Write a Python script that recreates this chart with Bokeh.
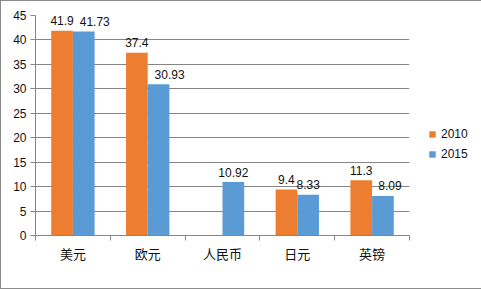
from bokeh.plotting import figure
from bokeh.models import FixedTicker, Legend, LegendItem, ColumnDataSource, Range1d
from bokeh.core.properties import value
from bokeh.embed import file_html
from bokeh.resources import INLINE

categories = ["美元", "欧元", "人民币", "日元", "英镑"]
series_names = ["2010", "2015"]
values_2010 = [41.9, 37.4, None, 9.4, 11.3]
values_2015 = [41.73, 30.93, 10.92, 8.33, 8.09]
y_ticks = [0, 5, 10, 15, 20, 25, 30, 35, 40, 45]

colors = ["#ED7D31", "#5B9BD5"]
label_dx_2015 = [11, 11, 0, 0, 7]  # label nudges (screen px)

p = figure(frame_width=374, frame_height=220, output_backend="svg", toolbar_location=None,
           x_range=Range1d(0, 5), y_range=Range1d(0, 45),
           min_border_left=34, min_border_top=14, min_border_right=71, min_border_bottom=53)
p.styles = {"border": "1px solid #8c8c8c"}
p.outline_line_color = None
p.background_fill_color = "white"
p.border_fill_color = "white"

font = "Liberation Sans"
gray = "#868686"

legend_items = []
for k, (vals, name, col) in enumerate(zip([values_2010, values_2015], series_names, colors)):
    off = -0.145 if k == 0 else 0.145
    xs, ys, labels, dx = [], [], [], []
    for i, v in enumerate(vals):
        if v is None:
            continue
        xs.append(i + 0.5 + off)
        ys.append(v)
        labels.append(str(v))
        dx.append(label_dx_2015[i] if k == 1 else 0)
    src = ColumnDataSource(dict(x=xs, top=ys, text=labels, dx=dx))
    r = p.vbar(x="x", top="top", width=0.29, bottom=0, source=src, fill_color=col, line_color=None)
    p.text(x="x", y="top", text="text", x_offset="dx", y_offset=-10, source=src,
           text_align="center", text_baseline="alphabetic", text_font=value(font),
           text_font_size="12px", text_color="#111111")
    legend_items.append(LegendItem(label=name, renderers=[r]))

# axes
yax = p.yaxis[0]
yax.ticker = FixedTicker(ticks=y_ticks)
yax.axis_line_color = gray
yax.major_tick_line_color = gray
yax.major_tick_out = 5
yax.major_tick_in = 0
yax.minor_tick_line_color = None
yax.major_label_standoff = 4
yax.major_label_text_font = font
yax.major_label_text_font_size = "12px"
yax.major_label_text_color = "#111111"

xax = p.xaxis[0]
xax.ticker = FixedTicker(ticks=[i + 0.5 for i in range(len(categories))],
                         minor_ticks=list(range(len(categories) + 1)))
xax.major_label_overrides = {i + 0.5: c for i, c in enumerate(categories)}
xax.axis_line_color = gray
xax.major_tick_line_color = None
xax.minor_tick_line_color = gray
xax.minor_tick_out = 5
xax.minor_tick_in = 0
xax.major_label_standoff = 2
xax.major_label_text_font = "Noto Sans CJK SC"
xax.major_label_text_font_size = "13px"
xax.major_label_text_color = "#111111"

p.xgrid.grid_line_color = None
p.ygrid.grid_line_color = gray
p.ygrid.ticker = FixedTicker(ticks=y_ticks)

legend = Legend(items=legend_items, location=(19, 71), orientation="vertical",
                glyph_width=8, glyph_height=8, label_standoff=5, spacing=0,
                label_height=20, padding=0, margin=0,
                border_line_color=None, background_fill_alpha=0,
                label_text_font=font, label_text_font_size="12px", label_text_color="#111111")
p.add_layout(legend, "right")

open("out.html", "w").write(file_html(p, INLINE))
